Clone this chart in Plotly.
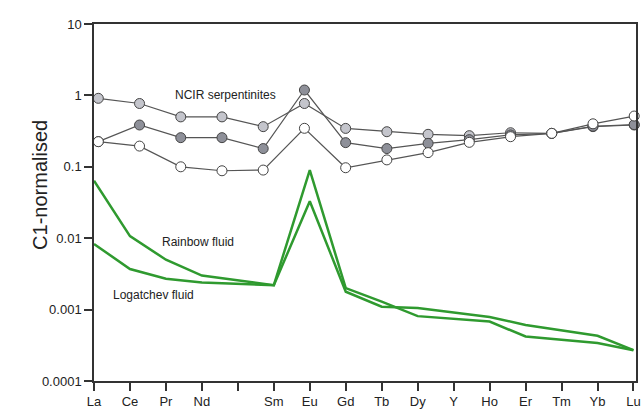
import plotly.graph_objects as go

# Axis categories (16 slots, with an unlabeled slot between Nd and Sm)
axis_labels = ["La", "Ce", "Pr", "Nd", "", "Sm", "Eu", "Gd", "Tb", "Dy", "Y", "Ho", "Er", "Tm", "Yb", "Lu"]

# Fluid data (elements plotted at their axis slot)
fluid_elements = ["La", "Ce", "Pr", "Nd", "Sm", "Eu", "Gd", "Tb", "Dy", "Ho", "Er", "Yb", "Lu"]
rainbow = [0.064, 0.0107, 0.0050, 0.0030, 0.0022, 0.090, 0.0020, 0.00129, 0.00081, 0.00068, 0.00042, 0.00034, 0.00027]
logatchev = [0.0083, 0.0037, 0.0027, 0.0024, 0.0022, 0.033, 0.00178, 0.0011, 0.00105, 0.00079, 0.00061, 0.00043, 0.00027]

# Serpentinite data (14 elements spread evenly across the axis width)
serp_elements = ["La", "Ce", "Pr", "Nd", "Sm", "Eu", "Gd", "Tb", "Dy", "Ho", "Er", "Tm", "Yb", "Lu"]
serp_top = [0.91, 0.77, 0.50, 0.50, 0.365, 0.77, 0.345, 0.31, 0.285, 0.273, 0.30, 0.294, 0.365, 0.385]
serp_mid = [0.225, 0.385, 0.256, 0.256, 0.18, 1.19, 0.218, 0.18, 0.213, 0.24, 0.28, 0.294, 0.37, 0.39]
serp_low = [0.225, 0.195, 0.10, 0.088, 0.09, 0.346, 0.097, 0.125, 0.158, 0.22, 0.264, 0.294, 0.40, 0.514]

ytick_vals = [0.0001, 0.001, 0.01, 0.1, 1, 10]
ytick_text = ["0.0001", "0.001", "0.01", "0.1", "1", "10"]

slot = {e: i for i, e in enumerate(axis_labels) if e}
fluid_x = [slot[e] for e in fluid_elements]
n_serp = len(serp_elements)
serp_x = [0.12 + i * (15.0 - 0.1) / (n_serp - 1) for i in range(n_serp)]

GREEN = "#2f9a2f"
LINE = "#555555"

fig = go.Figure()
for ys in (rainbow, logatchev):
    fig.add_trace(go.Scatter(x=fluid_x, y=ys, mode="lines",
                             line=dict(color=GREEN, width=2.5), showlegend=False,
                             hoverinfo="skip"))

for ys, fill in ((serp_top, "#c4c5cc"), (serp_mid, "#8e9099"), (serp_low, "#ffffff")):
    fig.add_trace(go.Scatter(x=serp_x, y=ys, mode="lines+markers",
                             line=dict(color=LINE, width=1.2),
                             marker=dict(symbol="circle", size=10, color=fill,
                                         line=dict(color="#444444", width=1)),
                             cliponaxis=False, showlegend=False, hoverinfo="skip"))

font_family = "Liberation Sans, Arial, sans-serif"
fig.add_annotation(x=3.67, y=0.0, xref="x", yref="y", text="NCIR serpentinites",
                   showarrow=False, font=dict(size=12, color="#222", family=font_family))
fig.add_annotation(x=2.89, y=-2.05, xref="x", yref="y", text="Rainbow fluid",
                   showarrow=False, font=dict(size=12, color="#222", family=font_family))
fig.add_annotation(x=1.65, y=-2.79, xref="x", yref="y", text="Logatchev fluid",
                   showarrow=False, font=dict(size=12, color="#222", family=font_family))
fig.add_annotation(x=-0.125, y=0.55, xref="paper", yref="paper", text="C1-normalised",
                   textangle=-90, showarrow=False,
                   font=dict(size=20, color="#222", family=font_family))

fig.update_xaxes(range=[0, 15.07], tickmode="array", automargin=False,
                 tickvals=list(range(len(axis_labels))), ticktext=axis_labels,
                 ticks="outside", ticklen=8, tickwidth=1.5, tickcolor="#333",
                 showline=True, linecolor="#333", linewidth=1.5, mirror=True,
                 showgrid=False, zeroline=False,
                 tickfont=dict(size=13, color="#222", family=font_family))
fig.update_yaxes(type="log", range=[-4, 1], tickmode="array", automargin=False,
                 tickvals=ytick_vals, ticktext=ytick_text,
                 ticks="outside", ticklen=8, tickwidth=1.5, tickcolor="#333",
                 showline=True, linecolor="#333", linewidth=1.5, mirror=True,
                 showgrid=False, zeroline=False,
                 tickfont=dict(size=13, color="#222", family=font_family))

fig.update_layout(width=644, height=410, paper_bgcolor="white", plot_bgcolor="white",
                  margin=dict(l=94, r=8, t=24, b=28.5), showlegend=False)

fig.write_html("out.html", config={"displayModeBar": False},
               post_script="document.body.style.margin='0';document.body.style.overflow='hidden';")
